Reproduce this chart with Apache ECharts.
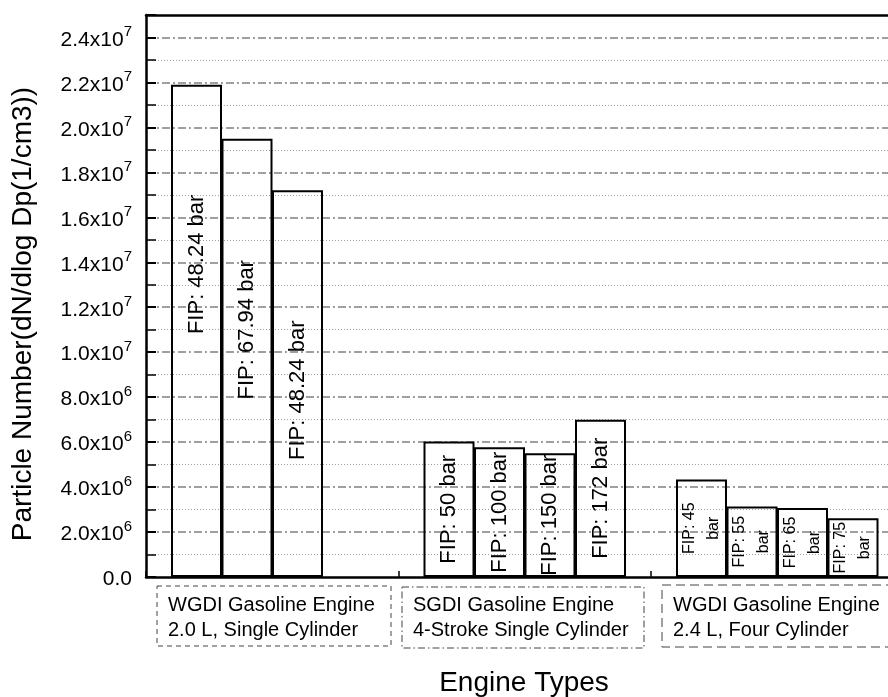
<!DOCTYPE html>
<html>
<head>
<meta charset="utf-8">
<script src="https://cdn.jsdelivr.net/npm/echarts@6/dist/echarts.min.js"></script>
<style>
  html, body { margin: 0; padding: 0; background: #fff; }
  #chart { width: 888px; height: 697px; }
</style>
</head>
<body>
<div id="chart"></div>
<script>
// Particle number concentration by engine type and fuel injection pressure (FIP)
const groupCaptions = [
  ['WGDI Gasoline Engine', '2.0 L, Single Cylinder'],
  ['SGDI Gasoline Engine', '4-Stroke Single Cylinder'],
  ['WGDI Gasoline Engine', '2.4 L, Four Cylinder']
];
const wgdi20Labels = ['FIP: 48.24 bar', 'FIP: 67.94 bar', 'FIP: 48.24 bar'];
const wgdi20Values = [2.19e7, 1.95e7, 1.72e7];
const sgdiLabels = ['FIP: 50 bar', 'FIP: 100 bar', 'FIP: 150 bar', 'FIP: 172 bar'];
const sgdiValues = [6.03e6, 5.77e6, 5.50e6, 7.0e6];
const wgdi24Labels = ['FIP: 45 bar', 'FIP: 55 bar', 'FIP: 65 bar', 'FIP: 75 bar'];
const wgdi24Values = [4.34e6, 3.14e6, 3.07e6, 2.61e6];
const xAxisTitle = 'Engine Types';
const yAxisTitle = 'Particle Number(dN/dlog Dp(1/cm3))';

const FONT = '"Liberation Sans", Arial, Helvetica, sans-serif';

// each engine group occupies consecutive slots on the x scale, one slot per bar
const groupSlots = [1, 6, 11];
// where the rotated label sits along each bar of the first group (from its top)
const firstGroupLabelAt = ['36.5%', '43.6%', '51.7%'];

const groups = [
  { labels: wgdi20Labels, values: wgdi20Values },
  { labels: sgdiLabels, values: sgdiValues },
  { labels: wgdi24Labels, values: wgdi24Values }
];

function labelFor(g, i, text) {
  const base = { show: true, rotate: 90, color: '#000', fontFamily: FONT, formatter: text };
  if (g === 0) {
    return Object.assign(base, { position: ['50%', firstGroupLabelAt[i]], align: 'center', verticalAlign: 'middle', fontSize: 22 });
  }
  if (g === 1) {
    return Object.assign(base, { position: 'inside', fontSize: 22 });
  }
  return Object.assign(base, { position: 'inside', fontSize: 16, lineHeight: 24, formatter: text.replace(' bar', '\nbar') });
}

const barData = [];
groups.forEach((grp, g) => {
  grp.values.forEach((v, i) => {
    barData.push({ value: [groupSlots[g] + i, v], label: labelFor(g, i, grp.labels[i]) });
  });
});

function yTick(v) {
  if (v === 0) return '{m|0.0}';
  const e = Math.floor(Math.log10(v) + 1e-9);
  const m = v / Math.pow(10, e);
  return '{m|' + m.toFixed(1) + 'x10}{e|' + e + '}';
}

const chart = echarts.init(document.getElementById('chart'), null, { renderer: 'canvas' });

const option = {
  animation: false,
  backgroundColor: '#fff',
  // the plot frame runs on past the right edge of the page
  grid: { left: 146, top: 15, bottom: 120, width: 757.5, containLabel: false, outerBoundsMode: 'none' },
  xAxis: [
    {
      type: 'value', position: 'bottom', min: 0, max: 15, interval: 5,
      axisLine: { show: true, onZero: false, lineStyle: { color: '#000', width: 2.5 } },
      axisTick: { show: true, inside: true, length: 6, lineStyle: { color: '#000', width: 1.5 } },
      axisLabel: { show: false },
      splitLine: { show: false }
    },
    {
      type: 'value', position: 'top', min: 0, max: 15,
      axisLine: { show: true, onZero: false, lineStyle: { color: '#000', width: 2.5 } },
      axisTick: { show: false }, axisLabel: { show: false }, splitLine: { show: false }
    }
  ],
  yAxis: {
    type: 'value', min: 0, max: 2.5e7, interval: 2e6,
    axisLine: { show: true, onZero: false, lineStyle: { color: '#000', width: 2.5 } },
    axisTick: { show: true, inside: true, length: 10, lineStyle: { color: '#000', width: 2 } },
    minorTick: { show: true, splitNumber: 2, length: 10, lineStyle: { color: '#000', width: 1.5 } },
    axisLabel: {
      margin: 14, showMaxLabel: false, color: '#000', formatter: yTick,
      rich: {
        m: { fontFamily: FONT, fontSize: 21, color: '#000', lineHeight: 26, verticalAlign: 'bottom' },
        e: { fontFamily: FONT, fontSize: 15, color: '#000', lineHeight: 15, verticalAlign: 'bottom', padding: [0, 0, 11, 0] }
      }
    },
    splitLine: { show: true, showMaxLine: false, showMinLine: false, lineStyle: { color: '#808080', width: 1.5, type: [8, 3, 2, 3] } },
    minorSplitLine: { show: true, lineStyle: { color: '#a0a0a0', width: 1, type: [1, 2] } }
  },
  series: [{
    type: 'bar',
    xAxisIndex: 0,
    barWidth: 51,
    data: barData,
    itemStyle: { color: 'rgba(0,0,0,0)', borderColor: '#000', borderWidth: 2 },
    emphasis: { disabled: true },
    z: 3
  }],
  graphic: [
    { type: 'rect', shape: { x: 157, y: 586, width: 234, height: 60 }, style: { fill: 'none', stroke: '#444', lineWidth: 1, lineDash: [5, 4] } },
    { type: 'rect', shape: { x: 402, y: 587, width: 242, height: 61 }, style: { fill: 'none', stroke: '#444', lineWidth: 1, lineDash: [7, 3, 1.5, 3] } },
    { type: 'rect', shape: { x: 662, y: 585, width: 260, height: 62 }, style: { fill: 'none', stroke: '#444', lineWidth: 1, lineDash: [9, 5] } },
    { type: 'text', x: 168, y: 617.5, style: { text: groupCaptions[0].join('\n'), fontFamily: FONT, fontSize: 20, lineHeight: 25, fill: '#000', align: 'left', verticalAlign: 'middle' } },
    { type: 'text', x: 413, y: 617.5, style: { text: groupCaptions[1].join('\n'), fontFamily: FONT, fontSize: 20, lineHeight: 25, fill: '#000', align: 'left', verticalAlign: 'middle' } },
    { type: 'text', x: 673, y: 617.5, style: { text: groupCaptions[2].join('\n'), fontFamily: FONT, fontSize: 20, lineHeight: 25, fill: '#000', align: 'left', verticalAlign: 'middle' } },
    { type: 'text', x: 524, y: 683, style: { text: xAxisTitle, fontFamily: FONT, fontSize: 28, fill: '#000', align: 'center', verticalAlign: 'middle' } },
    { type: 'text', x: 23, y: 314, rotation: Math.PI / 2, style: { text: yAxisTitle, fontFamily: FONT, fontSize: 28, fill: '#000', align: 'center', verticalAlign: 'middle' } }
  ]
};

chart.setOption(option);
</script>
</body>
</html>
